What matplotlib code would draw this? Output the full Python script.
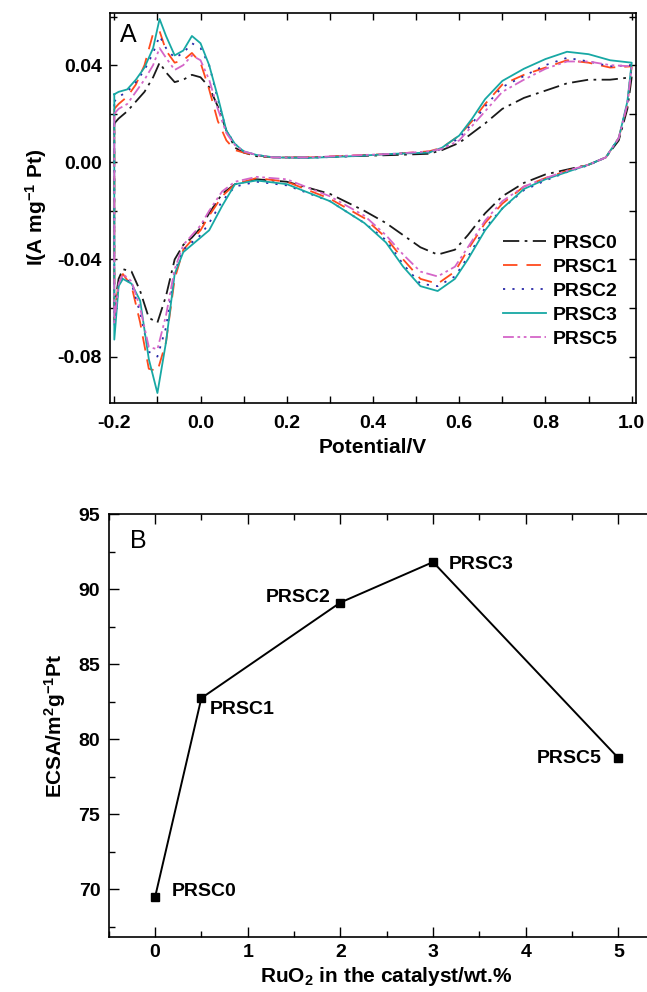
import matplotlib
matplotlib.use("Agg")
import matplotlib.pyplot as plt
from matplotlib.ticker import MultipleLocator

plt.rcParams['font.family'] = ['Liberation Sans', 'DejaVu Sans']
plt.rcParams['font.weight'] = 'bold'
plt.rcParams['mathtext.fontset'] = 'custom'
plt.rcParams['mathtext.bf'] = 'Liberation Sans:bold'
plt.rcParams['mathtext.rm'] = 'Liberation Sans:bold'
plt.rcParams['mathtext.default'] = 'bf'

# ---- panel A: cyclic voltammograms ----
# anodic sweep potentials (V)
x_anodic = [-0.2, -0.19, -0.17, -0.15, -0.13, -0.11, -0.095, -0.08, -0.06, -0.04,
            -0.02, 0.0, 0.02, 0.04, 0.06, 0.08, 0.1, 0.13, 0.17, 0.25, 0.35, 0.45,
            0.53, 0.56, 0.6, 0.63, 0.66, 0.7, 0.75, 0.8, 0.85, 0.9, 0.95, 1.0]
# cathodic sweep potentials (V)
x_cathodic = [1.0, 0.99, 0.97, 0.94, 0.9, 0.85, 0.8, 0.75, 0.7, 0.66, 0.62, 0.59,
              0.55, 0.51, 0.47, 0.43, 0.38, 0.3, 0.2, 0.13, 0.08, 0.05, 0.02, 0.0,
              -0.02, -0.04, -0.06, -0.08, -0.1, -0.12, -0.14, -0.16, -0.18, -0.19, -0.2]

prsc0_an = [0.016, 0.018, 0.021, 0.025, 0.029, 0.035, 0.041, 0.037, 0.033, 0.034,
            0.036, 0.035, 0.031, 0.023, 0.013, 0.006, 0.004, 0.0025, 0.002, 0.002, 0.0025, 0.003,
            0.0035, 0.005, 0.008, 0.012, 0.016, 0.022, 0.0265, 0.0295, 0.0325, 0.034, 0.034, 0.035]
prsc0_ca = [0.035, 0.022, 0.009, 0.002, -0.001, -0.003, -0.005, -0.0085, -0.014, -0.021, -0.030, -0.036,
            -0.038, -0.035, -0.030, -0.025, -0.020, -0.013, -0.008, -0.007, -0.009, -0.013, -0.021, -0.027,
            -0.031, -0.034, -0.040, -0.055, -0.066, -0.064, -0.053, -0.045, -0.044, -0.048, -0.060]

prsc1_an = [0.022, 0.024, 0.027, 0.032, 0.040, 0.053, 0.054, 0.046, 0.041, 0.042,
            0.045, 0.041, 0.030, 0.017, 0.009, 0.005, 0.004, 0.0028, 0.002, 0.002, 0.0028, 0.0035,
            0.0045, 0.006, 0.011, 0.017, 0.024, 0.032, 0.036, 0.039, 0.042, 0.041, 0.039, 0.0395]
prsc1_ca = [0.0395, 0.024, 0.010, 0.002, -0.001, -0.0035, -0.0065, -0.010, -0.017, -0.025, -0.036, -0.045,
            -0.050, -0.048, -0.040, -0.031, -0.023, -0.015, -0.008, -0.0065, -0.009, -0.014, -0.022, -0.028,
            -0.032, -0.036, -0.048, -0.074, -0.086, -0.085, -0.066, -0.051, -0.046, -0.049, -0.065]

prsc2_an = [0.025, 0.027, 0.029, 0.033, 0.038, 0.045, 0.052, 0.047, 0.043, 0.045,
            0.049, 0.047, 0.040, 0.026, 0.013, 0.0075, 0.0045, 0.003, 0.002, 0.0018, 0.0025, 0.0035,
            0.004, 0.0055, 0.010, 0.016, 0.023, 0.031, 0.0355, 0.040, 0.043, 0.0415, 0.0395, 0.040]
prsc2_ca = [0.040, 0.024, 0.010, 0.002, -0.0012, -0.004, -0.0075, -0.0115, -0.019, -0.027, -0.039, -0.047,
            -0.051, -0.050, -0.042, -0.032, -0.025, -0.016, -0.0095, -0.008, -0.010, -0.016, -0.025, -0.030,
            -0.033, -0.036, -0.045, -0.068, -0.080, -0.078, -0.062, -0.050, -0.047, -0.050, -0.068]

prsc3_an = [0.028, 0.029, 0.030, 0.034, 0.039, 0.047, 0.059, 0.052, 0.044, 0.046,
            0.052, 0.049, 0.040, 0.027, 0.013, 0.0075, 0.0045, 0.003, 0.002, 0.0018, 0.0025, 0.0035,
            0.004, 0.006, 0.011, 0.018, 0.026, 0.0335, 0.0385, 0.0425, 0.0455, 0.0445, 0.042, 0.041]
prsc3_ca = [0.041, 0.025, 0.010, 0.002, -0.001, -0.004, -0.007, -0.011, -0.019, -0.028, -0.040, -0.048,
            -0.053, -0.051, -0.043, -0.033, -0.025, -0.016, -0.009, -0.0075, -0.009, -0.018, -0.028, -0.031,
            -0.034, -0.037, -0.046, -0.074, -0.095, -0.081, -0.057, -0.050, -0.048, -0.051, -0.073]

prsc5_an = [0.020, 0.022, 0.024, 0.029, 0.034, 0.040, 0.047, 0.043, 0.038, 0.040,
            0.044, 0.042, 0.034, 0.022, 0.012, 0.007, 0.0045, 0.003, 0.002, 0.002, 0.0028, 0.0035,
            0.0045, 0.0055, 0.009, 0.015, 0.021, 0.029, 0.034, 0.0385, 0.0415, 0.0415, 0.040, 0.0395]
prsc5_ca = [0.0395, 0.024, 0.010, 0.002, -0.001, -0.0035, -0.0065, -0.010, -0.016, -0.024, -0.035, -0.043,
            -0.047, -0.045, -0.038, -0.030, -0.022, -0.014, -0.007, -0.006, -0.008, -0.012, -0.020, -0.026,
            -0.030, -0.034, -0.044, -0.063, -0.077, -0.076, -0.060, -0.049, -0.046, -0.050, -0.066]

cv_labels = ["PRSC0", "PRSC1", "PRSC2", "PRSC3", "PRSC5"]
cv_anodic = [prsc0_an, prsc1_an, prsc2_an, prsc3_an, prsc5_an]
cv_cathodic = [prsc0_ca, prsc1_ca, prsc2_ca, prsc3_ca, prsc5_ca]

# ---- panel B: ECSA ----
ruo2 = [0, 0.5, 2, 3, 5]
ecsa = [69.45, 82.73, 89.1, 91.8, 78.73]
ecsa_labels = ["PRSC0", "PRSC1", "PRSC2", "PRSC3", "PRSC5"]

colors = ["#1a1a1a", "#ff4a1c", "#2a2aa8", "#17a8a4", "#d466c8"]
styles = [(0, (9, 3, 1.5, 3)), (0, (8, 5)), (0, (1.2, 4)), "-", (0, (6, 2, 1.5, 2, 1.5, 2))]

fig = plt.figure(figsize=(6.47, 9.92), dpi=100)

ax1 = fig.add_axes([0.170, 0.594, 0.813, 0.393])
for lab, an, ca, c, ls in zip(cv_labels, cv_anodic, cv_cathodic, colors, styles):
    xs = x_anodic + x_cathodic + [x_anodic[0]]
    ys = an + ca + [an[0]]
    ax1.plot(xs, ys, color=c, linestyle=ls, lw=1.3, label=lab)

ax1.set_xlim(-0.21, 1.01)
ax1.set_ylim(-0.099, 0.0615)
ax1.xaxis.set_major_locator(MultipleLocator(0.2))
ax1.xaxis.set_minor_locator(MultipleLocator(0.1))
ax1.yaxis.set_major_locator(MultipleLocator(0.04))
ax1.yaxis.set_minor_locator(MultipleLocator(0.02))
ax1.tick_params(which='both', direction='in', top=True, right=True, labelsize=14, width=1)
ax1.tick_params(which='both', length=5)
ax1.tick_params(axis='y', pad=6)
ax1.tick_params(axis='x', pad=9)
ax1.set_xticklabels([f"{v:.1f}" for v in ax1.get_xticks()])
ax1.set_yticklabels([f"{v:.2f}" for v in ax1.get_yticks()])
ax1.set_xlabel("Potential/V", fontsize=15, fontweight='bold', labelpad=4)
ax1.set_ylabel(r"I(A mg$^{-1}$ Pt)", fontsize=15, fontweight='bold', labelpad=6)
ax1.text(0.018, 0.975, "A", transform=ax1.transAxes, fontsize=18, fontweight='normal',
         ha='left', va='top')
ax1.legend(loc='lower right', bbox_to_anchor=(0.965, 0.14), frameon=False, fontsize=14,
           handlelength=2.2, handletextpad=0.35, labelspacing=0.33, borderpad=0, borderaxespad=0)
for s in ax1.spines.values():
    s.set_linewidth(1.2)

ax2 = fig.add_axes([0.168, 0.0554, 0.8594, 0.4264])
ax2.plot(ruo2, ecsa, color='black', lw=1.4, marker='s', ms=6, mfc='black')
ax2.set_xlim(-0.5, 5.5)
ax2.set_ylim(66.8, 95)
ax2.xaxis.set_major_locator(MultipleLocator(1))
ax2.xaxis.set_minor_locator(MultipleLocator(0.5))
ax2.yaxis.set_major_locator(MultipleLocator(5))
ax2.yaxis.set_minor_locator(MultipleLocator(2.5))
ax2.tick_params(which='both', direction='in', top=True, right=True, labelsize=14, width=1)
ax2.tick_params(which='major', length=7)
ax2.tick_params(which='minor', length=4)
ax2.tick_params(axis='x', which='major', pad=5)
ax2.tick_params(axis='y', which='major', pad=6)
ax2.set_xlabel(r"RuO$_2$ in the catalyst/wt.%", fontsize=15, fontweight='bold', labelpad=3)
ax2.set_ylabel(r"ECSA/m$^2$g$^{-1}$Pt", fontsize=15, fontweight='bold', labelpad=8)
ax2.text(0.038, 0.965, "B", transform=ax2.transAxes, fontsize=18, fontweight='normal',
         ha='left', va='top')
offsets = [(12, 4, 'left'), (6, -8.5, 'left'), (-7, 3.5, 'right'), (11, -2, 'left'), (-12, 0, 'right')]
for xv, yv, lab, (dx, dy, ha) in zip(ruo2, ecsa, ecsa_labels, offsets):
    ax2.annotate(lab, (xv, yv), xytext=(dx, dy), textcoords='offset points',
                 ha=ha, va='center', fontsize=14, fontweight='bold')
for s in ax2.spines.values():
    s.set_linewidth(1.2)

fig.savefig("out.png", dpi=100)
